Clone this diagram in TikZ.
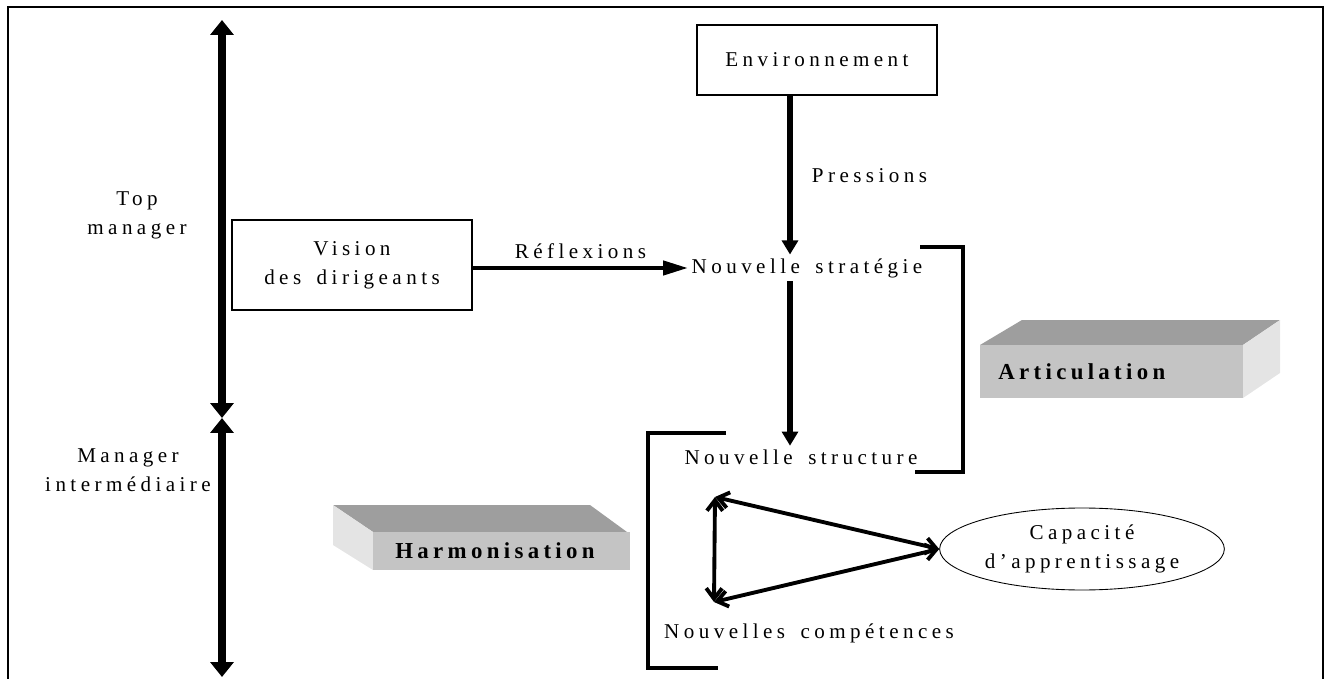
\documentclass[tikz,border=0pt]{standalone}
\usepackage{fontspec}
\setmainfont{Liberation Serif}
\newfontfamily\diagfont[LetterSpace=21,WordSpace=1.6]{Liberation Serif}
\newfontfamily\blockfont[LetterSpace=19]{Liberation Serif}
\usepackage{xcolor}
\definecolor{top-gray}{RGB}{158,158,158}
\definecolor{front-gray}{RGB}{196,196,196}
\definecolor{side-gray}{RGB}{228,228,228}
\usepackage{tikz}
\usetikzlibrary{arrows.meta,calc,shapes.geometric}

\tikzset{
	lbl/.style={font=\diagfont\fontsize{12}{16.5}\selectfont,align=center,inner sep=2pt},
	box/.style={draw,line width=1.2pt,minimum width=4.8cm},
	bigarrow/.style={line width=3pt,-{Triangle[width=9pt,length=8pt]}},
	axisarrow/.style={line width=4pt,{Triangle[width=13pt,length=8.5pt]}-{Triangle[width=13pt,length=8.5pt]}},
	linkarrow/.style={line width=2.2pt,{Straight Barb[width=9pt,length=6pt]}-{Straight Barb[width=9pt,length=6pt]}},
	bracket/.style={line width=2.4pt},
}

\begin{document}
\begin{tikzpicture}[x=0.02cm,y=-0.02cm]
	\useasboundingbox (0,0) rectangle (1330,679);
	\draw[line width=1.2pt] (8,679) -- (8,7) -- (1323,7) -- (1323,679);
	
	% levels
	\coordinate (L1) at (222,20);
	\coordinate (L2) at (222,418);
	\coordinate (L3) at (222,677);
	\draw[axisarrow] (L1) -- (L2);
	\draw[axisarrow] (L2) -- (L3);
	\node[lbl] (top) at (137,215) {Top\\manager};
	\node[lbl] (mgr) at (128,470) {Manager\\intermédiaire};
	
%	================================================
	\node[box,lbl,minimum height=1.8cm] (vision) at (352,265) {Vision\\des dirigeants};
	\node[box,lbl,minimum height=1.4cm] (env) at (817,60) {Environnement};
	\node[lbl] (strat) at (807,268) {Nouvelle stratégie};
	\node[lbl] (struct) at (801,457) {Nouvelle structure};
	\node[lbl] (comp) at (809,633) {Nouvelles compétences};
	\node[draw,ellipse,line width=.5pt,minimum width=5.42cm,minimum height=1.64cm,
	lbl] (cap) at (1082,549) {Capacité\\d’apprentissage};
	
	\coordinate (axe) at (790,0);
	\draw[bigarrow] (env.south -| axe) -- (strat.north -| axe)
	node[lbl,midway,right=9pt] (press) {Pressions};
	\draw[bigarrow] (strat.south -| axe) -- (struct.north -| axe);
	\draw[line width=2.2pt,-{Triangle[width=8pt,length=14pt]}] (vision.east |- strat) -- (strat.west)
	node[lbl,midway,above=2pt] (refl) {Réflexions};
	
	% brackets
	\draw[bracket] (920,247) -- (963,247) -- (963,472) -- (915,472);
	\draw[bracket] (726,433) -- (648,433) -- (648,668) -- (718,668);
	
	% triangle
	\coordinate (T1) at (715,497);
	\coordinate (T2) at (714,602);
	\draw[linkarrow] (T1) -- (T2);
	\draw[linkarrow] (T1) -- (cap.west);
	\draw[linkarrow] (T2) -- (cap.west);
	
%	================================================
	\fill[top-gray] (980,345) -- (1022,320) -- (1280,320) -- (1243,345) -- cycle;
	\fill[side-gray] (1243,345) -- (1280,320) -- (1280,373) -- (1243,398) -- cycle;
	\fill[front-gray] (980,345) rectangle (1243,398);
	\node[anchor=west,font=\blockfont\bfseries\fontsize{13}{16}\selectfont,inner sep=0pt] (art) at (998,372) {Articulation};
	
	\fill[top-gray] (333,505) -- (590,505) -- (627,532) -- (373,532) -- cycle;
	\fill[side-gray] (333,505) -- (373,532) -- (373,570) -- (333,545) -- cycle;
	\fill[front-gray] (373,532) rectangle (630,570);
	\node[anchor=west,font=\blockfont\bfseries\fontsize{13}{16}\selectfont,inner sep=0pt] (harm) at (395,551) {Harmonisation};
	
\end{tikzpicture}
\end{document}
